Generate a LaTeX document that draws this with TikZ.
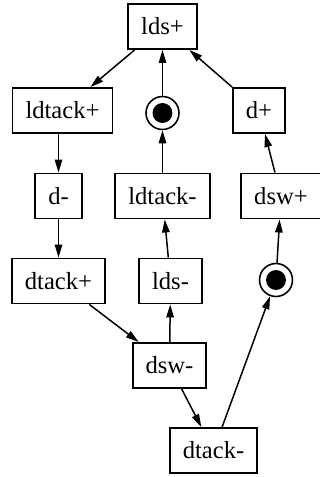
\documentclass[tikz,border=0pt]{standalone}
\usepackage{fontspec}
\setmainfont{Liberation Serif}
\usepackage{tikz}
\usetikzlibrary{arrows.meta}

\begin{document}
\begin{tikzpicture}[x=0.02cm, y=-0.02cm,
    >={Triangle[length=0.26cm, width=0.15cm]},
    every node/.style={font=\fontsize{14}{17}\selectfont},
    trans/.style={draw, rectangle, line width=1.1pt, minimum height=0.9cm, inner xsep=0.26cm, inner ysep=0pt},
    place/.style={draw, circle, line width=0.9pt, minimum size=0.66cm, inner sep=0pt},
    token/.style={fill=black, circle, minimum size=0.4cm, inner sep=0pt},
    arc/.style={->, line width=0.85pt}]
    \path[use as bounding box, fill=white] (0,0) rectangle (320,477);

    % Transitions
    \node[trans] (ldsP) at (162.5, 26.5) {lds+};
    \node[trans] (ldtackP) at (62.5, 110.5) {ldtack+};
    \node[trans] (dP) at (259, 110.5) {d+};
    \node[trans] (dM) at (58.5, 196) {d-};
    \node[trans] (ldtackM) at (162.5, 196) {ldtack-};
    \node[trans] (dswP) at (281, 196) {dsw+};
    \node[trans] (dtackP) at (58.5, 281) {dtack+};
    \node[trans] (ldsM) at (170.5, 281) {lds-};
    \node[trans] (dswM) at (169.5, 365.5) {dsw-};
    \node[trans] (dtackM) at (213.5, 450.5) {dtack-};

    % Marked places
    \node[place] (pA) at (162.5, 113) {};
    \node[token] (pAtok) at (pA) {};
    \node[place] (pB) at (276, 280) {};
    \node[token] (pBtok) at (pB) {};

    % Arcs
    \draw[arc] (ldsP) -- (ldtackP);
    \draw[arc] (pA) -- (ldsP);
    \draw[arc] (dP) -- (ldsP);
    \draw[arc] (ldtackP.south -| dM) -- (dM);
    \draw[arc] (ldtackM) -- (pA);
    \draw[arc] (dswP) -- (dP);
    \draw[arc] (dM) -- (dtackP);
    \draw[arc] (ldsM) -- (ldtackM);
    \draw[arc] (pB) -- (dswP);
    \draw[arc] (dtackP) -- (dswM);
    \draw[arc] (dswM) -- (ldsM);
    \draw[arc] (dswM) -- (dtackM);
    \draw[arc] (dtackM) -- (pB);
\end{tikzpicture}
\end{document}
